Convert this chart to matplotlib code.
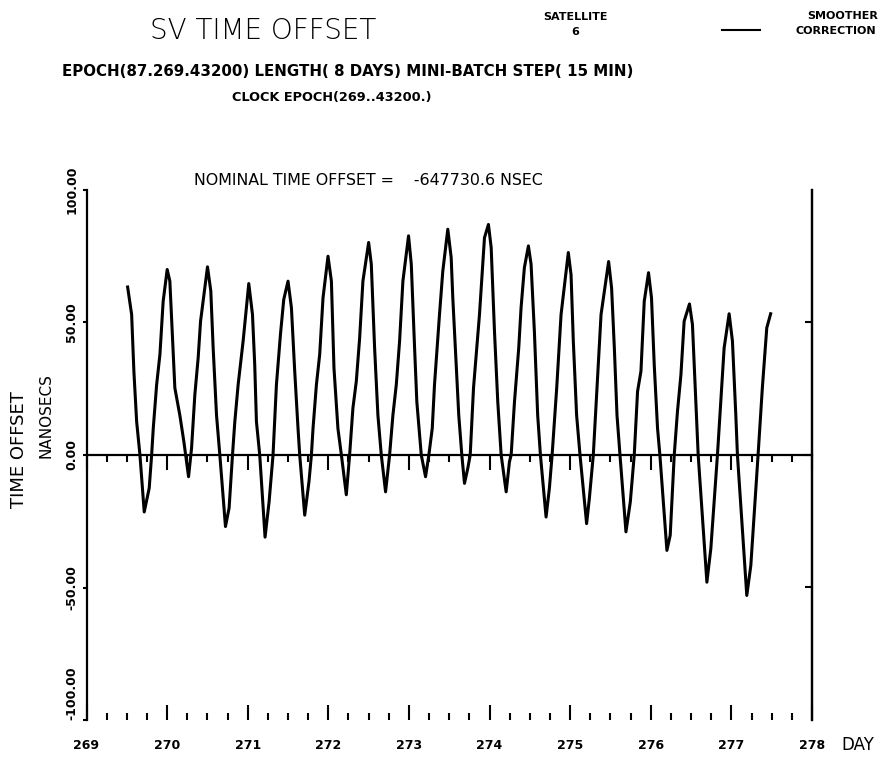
import numpy as np
import matplotlib
matplotlib.use("Agg")
import matplotlib.pyplot as plt
from matplotlib.ticker import MultipleLocator, FixedLocator

# -----------------------------
# Data
# -----------------------------
day = [
    269.510, 269.560, 269.588, 269.622, 269.663, 269.716, 269.778, 269.808, 269.828, 269.870, 269.911, 269.951,
    270.001, 270.034, 270.068, 270.096, 270.158, 270.208, 270.266, 270.303, 270.344, 270.385, 270.415,
    270.501, 270.542, 270.571, 270.613, 270.654, 270.724, 270.769, 270.811, 270.840, 270.881, 270.943,
    271.013, 271.059, 271.087, 271.108, 271.149, 271.215, 271.265, 271.314, 271.356, 271.406, 271.447,
    271.500, 271.542, 271.583, 271.624, 271.645, 271.707, 271.760, 271.790, 271.810, 271.852, 271.893, 271.934,
    271.996, 272.038, 272.070, 272.119, 272.162, 272.223, 272.264, 272.305, 272.347, 272.388, 272.429,
    272.500, 272.533, 272.574, 272.615, 272.657, 272.710, 272.760, 272.801, 272.843, 272.884, 272.925,
    272.995, 273.029, 273.070, 273.098, 273.153, 273.206, 273.247, 273.289, 273.317, 273.379, 273.420,
    273.482, 273.524, 273.544, 273.586, 273.618, 273.656, 273.689, 273.730, 273.760, 273.801, 273.875, 273.937,
    273.986, 274.020, 274.061, 274.102, 274.144, 274.206, 274.247, 274.268, 274.309, 274.362, 274.391, 274.432,
    274.482, 274.515, 274.556, 274.597, 274.631, 274.701, 274.742, 274.776, 274.833, 274.887,
    274.977, 275.011, 275.039, 275.080, 275.122, 275.204, 275.238, 275.287, 275.333, 275.383,
    275.477, 275.514, 275.548, 275.581, 275.618, 275.692, 275.746, 275.795, 275.836, 275.878, 275.919,
    275.972, 276.009, 276.043, 276.084, 276.113, 276.200, 276.241, 276.291, 276.331, 276.374, 276.414,
    276.480, 276.517, 276.559, 276.588, 276.696, 276.745, 276.827, 276.877, 276.910,
    276.972, 277.013, 277.055, 277.075, 277.191, 277.241, 277.282, 277.331, 277.384, 277.439, 277.487,
]

offset_ns = [
    63.4, 53, 31.5, 12.6, 0, -21.5, -12.5, 0, 10, 26.5, 38, 58,
    70, 65.6, 43, 25.3, 15, 5, -8.2, 2.5, 22.7, 36.6, 50.5,
    71, 61.9, 40.5, 15, 0, -27, -20, 0, 12.6, 26.5, 43,
    64.7, 53, 34, 12.6, 0, -31, -17.7, 0, 26.5, 45.5, 58.7,
    65.6, 55.6, 31.6, 10, 0, -22.7, -10, 0, 10, 26.5, 38, 59.3,
    75, 65.6, 32.8, 10, 0, -15, 0, 17.7, 27.8, 44, 65.6,
    80.2, 72, 40.4, 15, 0, -13.9, 0, 15, 26.5, 43, 65.6,
    82.7, 72, 40.4, 20, 0, -8.2, 0, 10, 26.5, 53, 69.4,
    85.2, 74.5, 59.3, 34, 15, 0, -10.7, -5, 0, 25.3, 53, 82,
    87, 78.3, 46.7, 20, 0, -13.9, -2.5, 0, 20, 40.4, 55.6, 70.7,
    78.9, 72, 46.7, 15, 0, -23.4, -12.6, 0, 25.3, 53,
    76.4, 68, 43, 15, 0, -25.9, -16.4, 0, 25.3, 53,
    73, 63, 40.4, 15, 0, -29, -17.7, 0, 24, 31.6, 58,
    68.8, 59.3, 34, 10, 0, -36, -30.3, 0, 16.4, 30.3, 50.5,
    57, 49.2, 20.2, 0, -48, -35.3, 0, 24, 40.4,
    53.3, 43, 15, 0, -53, -41.7, -22.7, 0, 25.3, 48, 53.3,
]

day_ticks = list(range(269, 279))
y_ticks = [-100, -50, 0, 50, 100]

plt.rcParams['font.family'] = ['DejaVu Sans']

# -----------------------------
# Figure
# -----------------------------
fig = plt.figure(figsize=(8.8, 7.57), dpi=100)
ax = fig.add_axes([86.5 / 880, 1 - 720 / 757, (812 - 86.5) / 880, (720 - 190) / 757])

ax.plot(day, offset_ns, color='black', lw=2.2, solid_joinstyle='round')

ax.set_xlim(269, 278)
ax.set_ylim(-100, 100)

for s in ['top', 'bottom']:
    ax.spines[s].set_visible(False)
for s in ['left', 'right']:
    ax.spines[s].set_linewidth(1.6)

# bottom ticks (no axis line), pointing up
ax.xaxis.set_major_locator(FixedLocator(day_ticks))
ax.xaxis.set_minor_locator(MultipleLocator(0.25))
ax.set_xticklabels([str(d) for d in day_ticks])
ax.tick_params(axis='x', which='major', direction='in', length=11, width=1.5, pad=14,
               labelsize=9)
ax.tick_params(axis='x', which='minor', direction='in', length=5, width=1.5)
for t in ax.get_xticklabels():
    t.set_fontweight('bold')

# left axis
ax.yaxis.set_major_locator(FixedLocator(y_ticks))
ax.set_yticklabels([f"{v:.2f}" for v in y_ticks], rotation=90, va='center',
                   fontsize=9, fontweight='bold')
ax.get_yticklabels()[0].set_va('bottom')
ax.tick_params(axis='y', direction='out', length=3, width=1.5, pad=3)

# right axis ticks pointing inward
rax = ax.secondary_yaxis('right')
rax.set_yticks([-50, 0, 50])
rax.tick_params(direction='in', length=5, width=1.5, labelright=False)
rax.spines['right'].set_linewidth(1.6)

# zero line with day ticks hanging below it
zax = ax.secondary_xaxis(0.5)
zax.xaxis.set_major_locator(FixedLocator(day_ticks))
zax.xaxis.set_minor_locator(MultipleLocator(0.25))
zax.tick_params(which='major', direction='in', length=11, width=1.5,
                labeltop=False, labelbottom=False)
zax.tick_params(which='minor', direction='in', length=5, width=1.5)
for s in zax.spines.values():
    s.set_linewidth(1.6)

ax.text(0.388, 1.018, "NOMINAL TIME OFFSET =    -647730.6 NSEC", transform=ax.transAxes,
        ha='center', va='center', fontsize=11.4)

# -----------------------------
# Header text
# -----------------------------
fig.text(150 / 880, 1 - 31 / 757, "SV TIME OFFSET", fontsize=20, fontweight='light',
         va='center', ha='left')
fig.text(575 / 880, 1 - 17 / 757, "SATELLITE", fontsize=8, fontweight='bold', ha='center', va='center')
fig.text(575 / 880, 1 - 32 / 757, "6", fontsize=8, fontweight='bold', ha='center', va='center')
fig.add_artist(plt.Line2D([722 / 880, 760 / 880], [1 - 30 / 757, 1 - 30 / 757], color='black', lw=1.5))
fig.text(843 / 880, 1 - 16 / 757, "SMOOTHER", fontsize=8, fontweight='bold', ha='center', va='center')
fig.text(836 / 880, 1 - 31 / 757, "CORRECTION", fontsize=8, fontweight='bold', ha='center', va='center')

fig.text(62 / 880, 1 - 71 / 757, "EPOCH(87.269.43200) LENGTH( 8 DAYS) MINI-BATCH STEP( 15 MIN)",
         fontsize=10.8, fontweight='bold', ha='left', va='center')
fig.text(232 / 880, 1 - 97 / 757, "CLOCK EPOCH(269..43200.)",
         fontsize=9.3, fontweight='bold', ha='left', va='center')

fig.text(19 / 880, 1 - 450 / 757, "TIME OFFSET", rotation=90, fontsize=13, ha='center', va='center')
fig.text(46 / 880, 1 - 416 / 757, "NANOSECS", rotation=90, fontsize=11, ha='center', va='center')
fig.text(858 / 880, 1 - 745 / 757, "DAY", fontsize=12, ha='center', va='center')

fig.savefig("out.png", dpi=100, facecolor='white')
